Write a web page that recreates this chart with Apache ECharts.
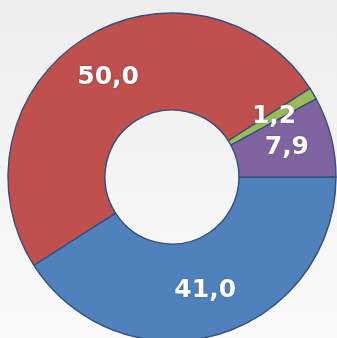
<!DOCTYPE html>
<html>
<head>
<meta charset="utf-8">
<script src="https://cdn.jsdelivr.net/npm/echarts@6/dist/echarts.min.js"></script>
<style>
  html, body { margin: 0; padding: 0; }
  #chart { width: 337px; height: 338px; }
</style>
</head>
<body>
<div id="chart"></div>
<script>
// Slice shares, in drawing order (clockwise from 3 o'clock)
const categories = ['A', 'B', 'C', 'D'];
const values = [41.0, 50.0, 1.2, 7.9];
const colors = ['#4f81bd', '#c0504d', '#9bbb59', '#8064a2'];

const chart = echarts.init(document.getElementById('chart'));

chart.setOption({
  animation: false,
  backgroundColor: {
    type: 'linear', x: 0, y: 0, x2: 0, y2: 1,
    colorStops: [
      { offset: 0, color: '#ededed' },
      { offset: 1, color: '#fafafa' }
    ]
  },
  series: [{
    type: 'pie',
    center: [172, 177],
    radius: [67, 164],
    startAngle: 0,
    clockwise: true,
    avoidLabelOverlap: false,
    itemStyle: {
      borderColor: '#34507a',
      borderWidth: 1.4
    },
    label: {
      show: true,
      position: 'inside',
      color: '#ffffff',
      fontFamily: 'DejaVu Sans',
      fontWeight: 'bold',
      fontSize: 25,
      textShadowColor: 'rgba(60,40,60,0.5)',
      textShadowBlur: 2,
      formatter: p => p.value.toFixed(1).replace('.', ',')
    },
    labelLine: { show: false },
    emphasis: { disabled: true },
    data: categories.map((c, i) => ({
      name: c,
      value: values[i],
      itemStyle: { color: colors[i] }
    }))
  }]
});
</script>
</body>
</html>
